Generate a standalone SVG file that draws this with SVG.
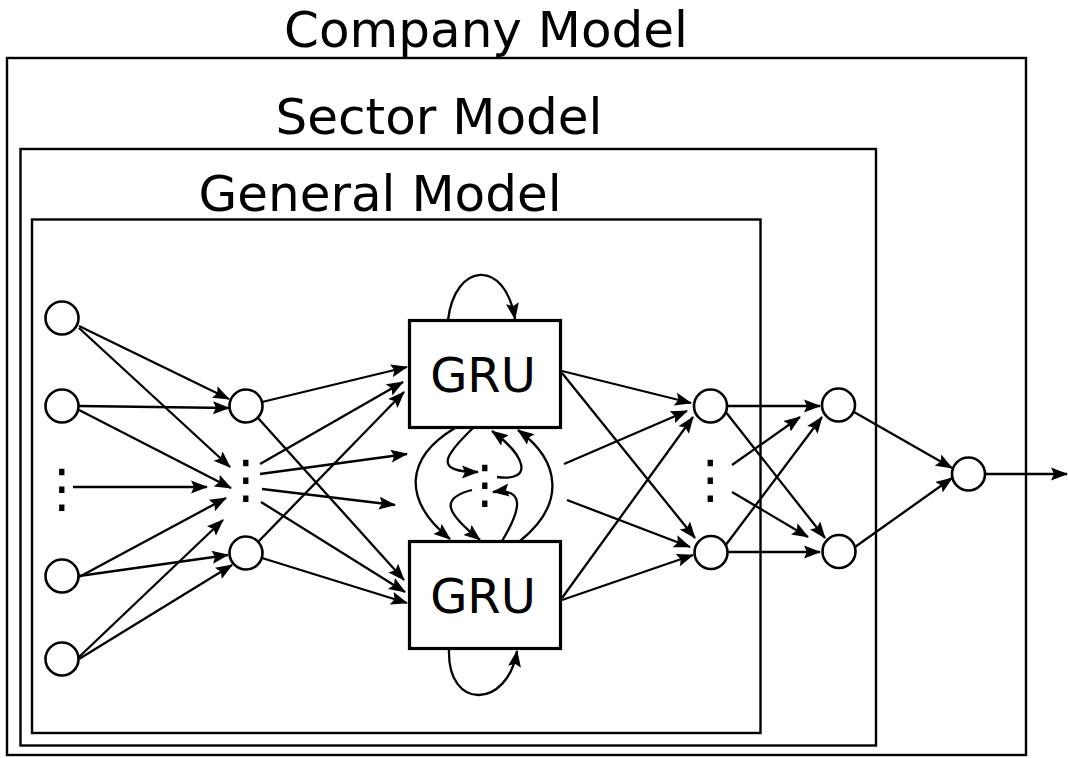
<svg xmlns="http://www.w3.org/2000/svg" width="1068" height="758" viewBox="0 0 1068 758">
<style>
.frame{fill:none;stroke:#000;stroke-width:2.4}
.title{font-family:"DejaVu Sans",sans-serif;font-size:50px;fill:#000;text-anchor:middle}
.gru rect{fill:#fff;stroke:#000;stroke-width:3.2}
.gru text{font-family:"DejaVu Sans",sans-serif;font-size:48px;fill:#000;text-anchor:middle}
.node{fill:#fff;stroke:#000;stroke-width:2.6}
.dots{font-family:"DejaVu Sans",sans-serif;font-size:52px;fill:#000;text-anchor:middle}
#connectors path,#connectors line{fill:none;stroke:#000;stroke-width:2.3;marker-end:url(#arr)}
</style>
<defs>
<marker id="arr" markerUnits="userSpaceOnUse" markerWidth="18" markerHeight="14" viewBox="0 -7 18 14" refX="16" refY="0" orient="auto">
<path d="M0,-6.5 L17,0 L0,6.5 L3,0 z" fill="#000"/>
</marker>
</defs>
<rect width="1068" height="758" fill="#fff"/>
<g id="company-model">
<rect class="frame" x="7" y="58" width="1019" height="697"/>
<text class="title" x="486" y="47">Company Model</text>
</g>
<g id="sector-model">
<rect class="frame" x="20.5" y="149" width="855.5" height="596.5"/>
<text class="title" x="439" y="134">Sector Model</text>
</g>
<g id="general-model">
<rect class="frame" x="32" y="219.5" width="728.5" height="513.5"/>
<text class="title" x="380" y="211">General Model</text>
</g>
<g id="connectors">
<line x1="79" y1="326" x2="229" y2="399"/>
<line x1="79" y1="328" x2="230" y2="467"/>
<line x1="79" y1="406" x2="229" y2="408"/>
<line x1="79" y1="410" x2="231" y2="488"/>
<line x1="73" y1="487" x2="207" y2="487"/>
<line x1="79" y1="577" x2="226" y2="498"/>
<line x1="79" y1="576" x2="228" y2="555"/>
<line x1="79" y1="657" x2="223" y2="520"/>
<line x1="79" y1="659" x2="232" y2="565"/>
<line x1="262" y1="402" x2="407" y2="367"/>
<line x1="260" y1="464" x2="403" y2="382"/>
<line x1="258" y1="542" x2="404" y2="392"/>
<line x1="260" y1="474" x2="407" y2="454"/>
<line x1="262" y1="489" x2="395" y2="505"/>
<line x1="258" y1="418" x2="404" y2="580"/>
<line x1="261" y1="502" x2="405" y2="592"/>
<line x1="262" y1="558" x2="407" y2="603"/>
<line x1="562" y1="371" x2="691" y2="403"/>
<line x1="562" y1="373" x2="695" y2="538"/>
<line x1="564" y1="464" x2="687" y2="411"/>
<line x1="567" y1="500" x2="690" y2="547"/>
<line x1="562" y1="598" x2="693" y2="417"/>
<line x1="562" y1="600" x2="693" y2="555"/>
<line x1="727" y1="406" x2="820" y2="406"/>
<line x1="725" y1="411" x2="825" y2="538"/>
<line x1="732" y1="465" x2="800" y2="417"/>
<line x1="732" y1="492" x2="808" y2="537"/>
<line x1="725" y1="546" x2="822" y2="417"/>
<line x1="728" y1="552" x2="820" y2="552"/>
<line x1="854" y1="412" x2="952" y2="468"/>
<line x1="855" y1="547" x2="952" y2="478"/>
<line x1="985" y1="474" x2="1067" y2="474"/>
<path d="M448,320 C455,262 505,258 515,319"/>
<path d="M449,649 C447,712 508,708 517,651"/>
<path d="M455,428 C405,458 402,500 450,539"/>
<path d="M473,428 C445,455 432,472 478,472"/>
<path d="M497,477 C535,482 525,455 492,431"/>
<path d="M520,541 C565,505 562,462 518,430"/>
<path d="M472,490 C440,498 445,512 480,540"/>
<path d="M502,541 C522,508 525,488 493,492"/>
</g>
<g id="gru-top" class="gru">
<rect x="409.5" y="320.5" width="151" height="107"/>
<text x="483" y="392">GRU</text>
</g>
<g id="gru-bottom" class="gru">
<rect x="409.5" y="541.5" width="151" height="107"/>
<text x="483" y="613">GRU</text>
</g>
<g id="input-1"><circle class="node" cx="62" cy="318" r="16.5"/></g>
<g id="input-2"><circle class="node" cx="62" cy="406" r="16.5"/></g>
<g id="input-dots"><text class="dots" x="62" y="506">⋮</text></g>
<g id="input-3"><circle class="node" cx="62" cy="576" r="16.5"/></g>
<g id="input-4"><circle class="node" cx="62" cy="659" r="16.5"/></g>
<g id="hidden-1"><circle class="node" cx="246" cy="406" r="16.5"/></g>
<g id="hidden-dots"><text class="dots" x="246" y="497">⋮</text></g>
<g id="hidden-2"><circle class="node" cx="246" cy="553" r="16.5"/></g>
<g id="gru-dots"><text class="dots" x="485" y="502">⋮</text></g>
<g id="dense-1"><circle class="node" cx="710.5" cy="406" r="16.5"/></g>
<g id="dense-dots"><text class="dots" x="710.5" y="497">⋮</text></g>
<g id="dense-2"><circle class="node" cx="711" cy="552.5" r="16.5"/></g>
<g id="out-1"><circle class="node" cx="838.5" cy="405" r="16.5"/></g>
<g id="out-2"><circle class="node" cx="839" cy="551.5" r="16.5"/></g>
<g id="output"><circle class="node" cx="968.5" cy="474" r="16.5"/></g>
</svg>
